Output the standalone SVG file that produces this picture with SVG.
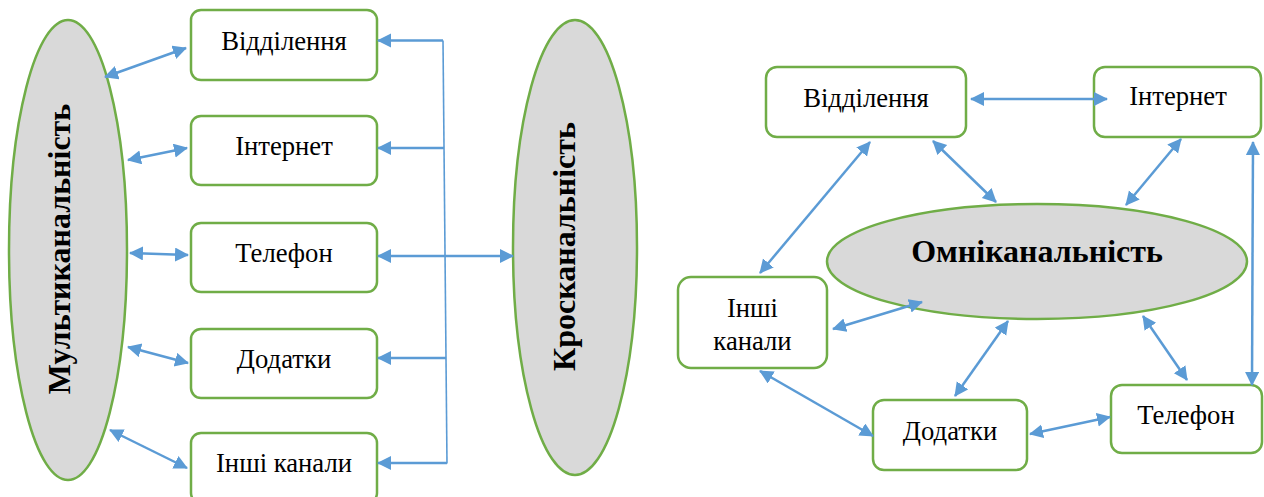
<svg xmlns="http://www.w3.org/2000/svg" width="1264" height="497" viewBox="0 0 1264 497">
<style>
.box{fill:#fff;stroke:#70AD47;stroke-width:2.5}
.ell{fill:#D9D9D9;stroke:#70AD47;stroke-width:2.5}
.t{font-family:"Liberation Serif","Times New Roman",serif;font-size:26.67px;fill:#000;text-anchor:middle}
.b{font-family:"Liberation Serif","Times New Roman",serif;font-size:32px;font-weight:bold;fill:#000;text-anchor:middle}
.c{stroke:#5B9BD5;stroke-width:2.5;fill:none}
.d{marker-start:url(#ah);marker-end:url(#ah)}
.e{marker-end:url(#ah)}
.v{stroke:#5B9BD5;stroke-width:1.6;fill:none}
</style>
<defs>
<marker id="ah" markerUnits="userSpaceOnUse" markerWidth="16" markerHeight="16" refX="13" refY="7" orient="auto-start-reverse">
<path d="M0,0 L14,7 L0,14 z" fill="#5B9BD5"/>
</marker>
</defs>

<g id="multi">
<ellipse class="ell" cx="68" cy="250" rx="59" ry="230"/>
<text class="b" transform="translate(70,249) rotate(-90)">Мультиканальність</text>
</g>
<g id="kros">
<ellipse class="ell" cx="575" cy="247.5" rx="62" ry="227.5"/>
<text class="b" transform="translate(575,246.5) rotate(-90)">Кросканальність</text>
</g>

<g id="l-viddilennya"><rect class="box" x="191" y="10" width="186" height="70" rx="10"/><text class="t" x="284" y="50">Відділення</text></g>
<g id="l-internet"><rect class="box" x="191" y="116" width="186" height="69" rx="10"/><text class="t" x="284" y="155">Інтернет</text></g>
<g id="l-telefon"><rect class="box" x="191" y="223" width="186" height="69" rx="10"/><text class="t" x="284" y="262">Телефон</text></g>
<g id="l-dodatky"><rect class="box" x="191" y="329" width="186" height="69" rx="10"/><text class="t" x="284" y="368">Додатки</text></g>
<g id="l-inshi"><rect class="box" x="191" y="433" width="186" height="70" rx="10"/><text class="t" x="284" y="472">Інші канали</text></g>

<g id="omni">
<ellipse class="ell" cx="1037" cy="261.5" rx="210" ry="57.5"/>
<text class="b" x="1037" y="262">Омніканальність</text>
</g>
<g id="r-viddilennya"><rect class="box" x="766" y="67" width="200" height="70" rx="11"/><text class="t" x="866" y="107">Відділення</text></g>
<g id="r-internet"><rect class="box" x="1094" y="67" width="167" height="70" rx="11"/><text class="t" x="1178" y="105">Інтернет</text></g>
<g id="r-inshi"><rect class="box" x="678" y="277" width="149" height="91" rx="13"/><text class="t" x="752.5" y="317">Інші</text><text class="t" x="752.5" y="350">канали</text></g>
<g id="r-dodatky"><rect class="box" x="873" y="400" width="154" height="70" rx="11"/><text class="t" x="950" y="440">Додатки</text></g>
<g id="r-telefon"><rect class="box" x="1111" y="385" width="151" height="68" rx="11"/><text class="t" x="1186" y="424">Телефон</text></g>

<g id="connectors">
<line class="c d" x1="105" y1="77" x2="186" y2="48"/>
<line class="c d" x1="128" y1="160" x2="187" y2="148"/>
<line class="c d" x1="130" y1="253" x2="188" y2="255"/>
<line class="c d" x1="128" y1="347" x2="188" y2="363"/>
<line class="c d" x1="110" y1="430" x2="187" y2="468"/>

<line class="v" x1="443" y1="40.5" x2="447" y2="463.5"/>
<line class="c e" x1="443" y1="40.5" x2="378" y2="40.5"/>
<line class="c e" x1="444" y1="148" x2="378" y2="148"/>
<line class="c d" x1="378" y1="256" x2="513" y2="256"/>
<line class="c e" x1="446" y1="358" x2="378" y2="358"/>
<line class="c e" x1="447" y1="463" x2="378" y2="463"/>

<line class="c d" x1="971" y1="99" x2="1107" y2="99"/>
<line class="c d" x1="870" y1="142" x2="760" y2="273"/>
<line class="c d" x1="933" y1="141" x2="996" y2="202"/>
<line class="c d" x1="1181" y1="139" x2="1126" y2="205"/>
<line class="c d" x1="1253" y1="142" x2="1252" y2="385"/>
<line class="c d" x1="922" y1="302" x2="833" y2="329"/>
<line class="c d" x1="1008" y1="321" x2="955" y2="396"/>
<line class="c d" x1="1143" y1="316" x2="1187" y2="380"/>
<line class="c d" x1="760" y1="371" x2="873" y2="436"/>
<line class="c d" x1="1030" y1="434" x2="1110" y2="417"/>
</g>
</svg>
